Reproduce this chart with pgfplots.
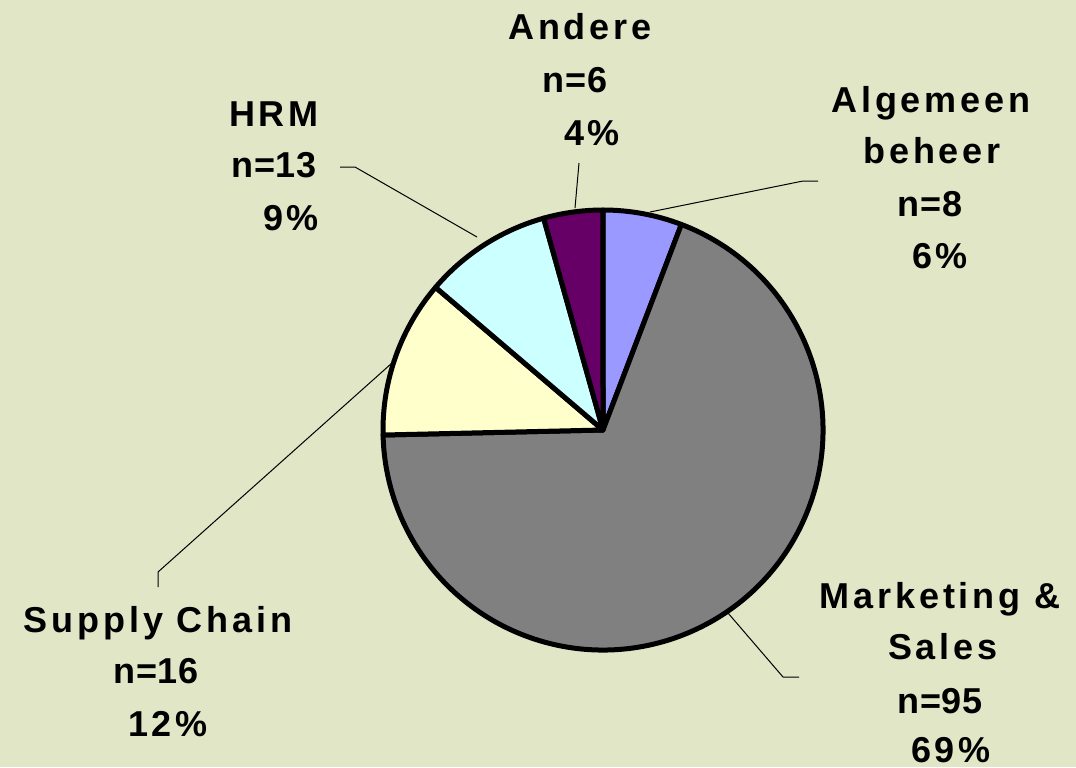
\documentclass[border=0pt]{standalone}
\usepackage{fontspec}
\setmainfont{Liberation Sans}
\newfontfamily\wordfont{Liberation Sans}[LetterSpace=11]
\newfontfamily\numfont{Liberation Sans}[LetterSpace=2]
\usepackage{pgfplots}
\pgfplotsset{compat=1.18}
\definecolor{bgc}{RGB}{224,230,198}
\definecolor{cAlg}{RGB}{153,153,255}
\definecolor{cMkt}{RGB}{128,128,128}
\definecolor{cSup}{RGB}{255,255,204}
\definecolor{cHrm}{RGB}{204,255,255}
\definecolor{cAnd}{RGB}{102,0,102}
% counts per category
\def\nAlg{8}
\def\nMkt{95}
\def\nSup{16}
\def\nHrm{13}
\def\nAnd{6}
\pgfmathsetmacro\total{\nAlg+\nMkt+\nSup+\nHrm+\nAnd}
\pgfmathsetmacro\aA{90}
\pgfmathsetmacro\aB{\aA-\nAlg/\total*360}
\pgfmathsetmacro\aC{\aB-\nMkt/\total*360}
\pgfmathsetmacro\aD{\aC-\nSup/\total*360}
\pgfmathsetmacro\aE{\aD-\nHrm/\total*360}
\pgfmathsetmacro\aF{\aE-\nAnd/\total*360}
\newcommand{\slice}[3]{%
  \filldraw[fill=#1,draw=black,line width=2.5pt,line join=round]
    (axis cs:603,430) -- ([shift={(#2:110pt)}]axis cs:603,430)
    arc[start angle=#2,end angle=#3,radius=110pt] -- cycle;}
\begin{document}
\begin{tikzpicture}
\begin{axis}[
  scale only axis, width=538pt, height=383.5pt,
  xmin=0, xmax=1076, ymin=0, ymax=767, y dir=reverse,
  hide axis, clip=false]
\fill[bgc] (axis cs:0,0) rectangle (axis cs:1076,767);
\slice{cAlg}{\aA}{\aB}
\slice{cMkt}{\aB}{\aC}
\slice{cSup}{\aC}{\aD}
\slice{cHrm}{\aD}{\aE}
\slice{cAnd}{\aE}{\aF}
% leader lines
\draw[line width=0.5pt] (axis cs:575,208) -- (axis cs:579,163);
\draw[line width=0.5pt] (axis cs:650,212) -- (axis cs:803,181) -- (axis cs:818,181);
\draw[line width=0.5pt] (axis cs:477,237) -- (axis cs:355,167) -- (axis cs:340,167);
\draw[line width=0.5pt] (axis cs:392,363) -- (axis cs:158,572) -- (axis cs:158,587);
\draw[line width=0.5pt] (axis cs:728,613) -- (axis cs:783,677) -- (axis cs:799,677);
% labels
\tikzset{lw/.style={anchor=base,inner sep=0pt,font=\wordfont\bfseries\fontsize{18}{21}\selectfont},
         ln/.style={anchor=base,inner sep=0pt,font=\numfont\bfseries\fontsize{18}{21}\selectfont}}
\node[lw] at (axis cs:580,39) {Andere};
\node[ln] at (axis cs:575,92) {n=6};
\node[lw] at (axis cs:592,145) {4\%};
\node[lw] at (axis cs:931,112) {Algemeen};
\node[lw] at (axis cs:932,163) {beheer};
\node[ln] at (axis cs:930,216) {n=8};
\node[lw] at (axis cs:940,268) {6\%};
\node[lw] at (axis cs:274,126) {HRM};
\node[ln] at (axis cs:274,177) {n=13};
\node[lw] at (axis cs:291,230) {9\%};
\node[lw] at (axis cs:158,632) {Supply Chain};
\node[ln] at (axis cs:156,683) {n=16};
\node[lw] at (axis cs:168,736) {12\%};
\node[lw] at (axis cs:940,608) {Marketing \&};
\node[lw] at (axis cs:943,659) {Sales};
\node[ln] at (axis cs:940,713) {n=95};
\node[lw] at (axis cs:951,762) {69\%};
\end{axis}
\end{tikzpicture}
\end{document}
